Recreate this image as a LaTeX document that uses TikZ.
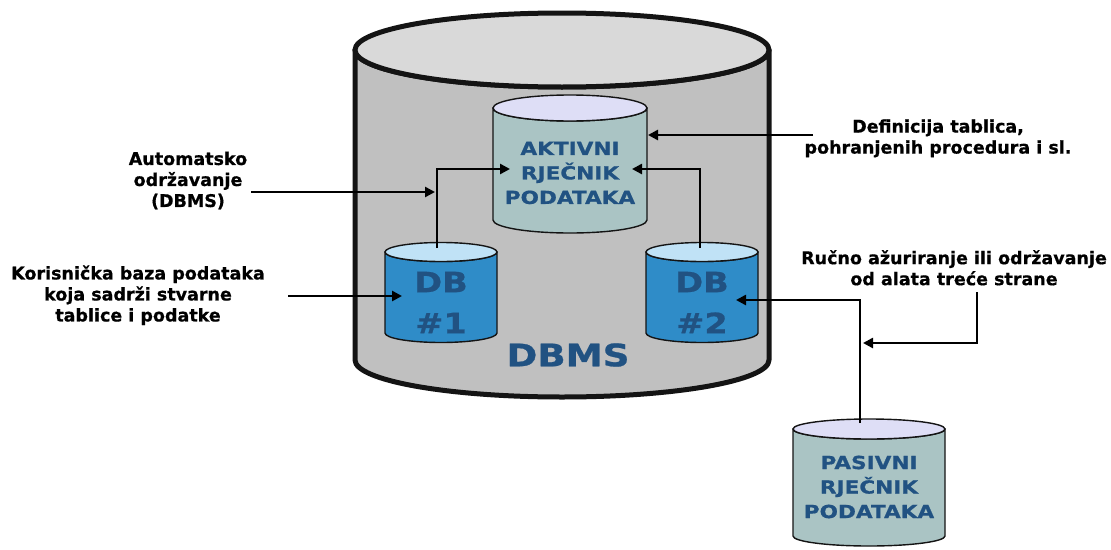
\documentclass[tikz,border=0pt]{standalone}
\usepackage{fontspec}
\setmainfont{DejaVu Sans}
\newfontfamily\capfont{DejaVu Sans}[FakeStretch=1.2,FakeBold=0.8]
\newfontfamily\lblfont{DejaVu Sans}[FakeBold=0.6]
\usetikzlibrary{arrows.meta}
\definecolor{bigbody}{RGB}{192,192,192}
\definecolor{bigtop}{RGB}{217,217,217}
\definecolor{dictbody}{RGB}{170,196,196}
\definecolor{dicttop}{RGB}{222,222,246}
\definecolor{dbbody}{RGB}{47,140,200}
\definecolor{dbtop}{RGB}{192,226,246}
\definecolor{dbtext}{RGB}{33,82,130}
\definecolor{cylline}{RGB}{20,20,20}
\newcommand\mycyl[8]{%
  \path[draw=cylline, line width=#1, line join=round, fill=#7]
    (#2-#5,#3) -- (#2-#5,#4)
    arc[start angle=180, end angle=0, x radius=#5, y radius=#6]
    -- (#2+#5,#3)
    arc[start angle=0, end angle=180, x radius=#5, y radius=#6] -- cycle;
  \path[draw=cylline, line width=#1, fill=#8] (#2,#3) ellipse[x radius=#5, y radius=#6];
}
\tikzset{
  arr/.style={draw=black, line width=2.7pt, -{Triangle[length=10pt,width=10pt]}},
  lbl/.style={font=\lblfont\bfseries\fontsize{17.5}{21}\selectfont, align=center, text=black, inner sep=0pt},
  capt/.style={font=\capfont\bfseries\fontsize{18}{24.5}\selectfont, align=center, text=dbtext, inner sep=0pt},
  dbt/.style={font=\capfont\bfseries\fontsize{28}{41}\selectfont, align=center, text=dbtext, inner sep=0pt},
  bigt/.style={font=\capfont\bfseries\fontsize{31}{31}\selectfont, text=dbtext, inner sep=0pt},
}
\begin{document}
\begin{tikzpicture}[x=1pt,y=-1pt]
\useasboundingbox[fill=white] (0,0) rectangle (1111,549);
% cylinders
\mycyl{5pt}{562}{50}{360}{207}{37}{bigbody}{bigtop}
\mycyl{1.4pt}{570}{108}{220}{77}{13}{dictbody}{dicttop}
\mycyl{1.4pt}{441}{252}{333}{56}{9.5}{dbbody}{dbtop}
\mycyl{1.4pt}{702}{252}{333}{56}{9.5}{dbbody}{dbtop}
\mycyl{1.4pt}{869}{429}{536}{76}{10}{dictbody}{dicttop}
% texts inside
\node[capt] (akt) at (570,173) {AKTIVNI\\RJEČNIK\\PODATAKA};
\node[capt] (pas) at (869,487) {PASIVNI\\RJEČNIK\\PODATAKA};
\node[dbt] (db1) at (441,302.5) {DB\\\#1};
\node[dbt] (db2) at (702,302.5) {DB\\\#2};
\node[bigt] (dbms) at (568,355) {DBMS};
% labels
\node[lbl] (auto) at (188,180.5) {Automatsko\\održavanje\\(DBMS)};
\node[lbl] (kor) at (138,295.3) {Korisnička baza podataka\\koja sadrži stvarne\\tablice i podatke};
\node[lbl] (def) at (938,138.3) {Definicija tablica,\\pohranjenih procedura i sl.};
\node[lbl] (ruc) at (954,267.8) {Ručno ažuriranje ili održavanje\\od alata treće strane};
% connector points
\coordinate (autoS) at (251,192);
\coordinate (autoT) at (435,192);
\coordinate (db1top) at (437,248);
\coordinate (aktW) at (510,169);
\coordinate (db2top) at (700,248);
\coordinate (aktE) at (632,169);
\coordinate (defS) at (813,135);
\coordinate (defT) at (648,135);
\coordinate (korS) at (288,296);
\coordinate (korT) at (402,296);
\coordinate (pastop) at (860,423);
\coordinate (db2E) at (736,300);
\coordinate (rucS) at (977,292);
\coordinate (rucT) at (863,343);
% connectors
\draw[arr] (autoS) -- (autoT);
\draw[arr] (db1top) |- (aktW);
\draw[arr] (db2top) |- (aktE);
\draw[arr] (defS) -- (defT);
\draw[arr] (korS) -- (korT);
\draw[arr] (pastop) |- (db2E);
\draw[arr] (rucS) |- (rucT);
\end{tikzpicture}
\end{document}
